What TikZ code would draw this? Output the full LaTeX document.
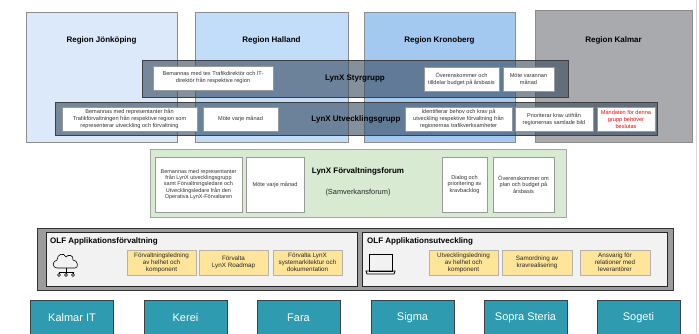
\documentclass[tikz,border=0pt]{standalone}
\usepackage{fontspec}
\setmainfont{Liberation Sans}
\definecolor{jkpfill}{HTML}{DCE9FB}
\definecolor{halfill}{HTML}{C2DDF9}
\definecolor{kronfill}{HTML}{A3C9F1}
\definecolor{kalfill}{HTML}{A8AAAD}
\definecolor{bandfill}{HTML}{34465C}
\definecolor{forumfill}{HTML}{D9EAD3}
\definecolor{olffill}{HTML}{9C9C9C}
\definecolor{panelfill}{HTML}{F2F2F2}
\definecolor{taskfill}{HTML}{FFE599}
\definecolor{levfill}{HTML}{2E9BB0}
\begin{document}
\begin{tikzpicture}[x=1pt,y=-1pt,
    region/.style={draw=black!45,inner sep=0pt,line width=0.7pt},
    regtitle/.style={font=\fontsize{8}{9.6}\selectfont\bfseries},
    band/.style={draw=black!75,fill=bandfill,fill opacity=0.6,inner sep=0pt,line width=0.7pt},
    note/.style={draw=black!40,fill=white,inner sep=0pt,align=center,text=black!80,
      font=\fontsize{5.6}{7}\selectfont},
    task/.style={draw=black!30,fill=taskfill,inner sep=0pt,align=center,text=black!85,
      minimum width=69pt,minimum height=25pt,font=\fontsize{6.3}{7}\selectfont},
    lev/.style={draw=black!75,fill=levfill,text=white,inner sep=0pt,line width=0.7pt,
      minimum width=83pt,minimum height=36pt,font=\fontsize{11}{13}\selectfont}]
  \clip (0,0) rectangle (699,333);
  \fill[white] (0,0) rectangle (699,333);
  \draw[black!15] (696,0) -- (696,333);
  % regionerna
  \node[region,fill=jkpfill,minimum width=151pt,minimum height=130pt] (jkp) at (101.5,77) {};
  \node[region,fill=halfill,minimum width=153pt,minimum height=130pt] (hal) at (271.5,77) {};
  \node[region,fill=kronfill,minimum width=151pt,minimum height=130pt] (kron) at (439.5,77) {};
  \node[region,fill=kalfill,minimum width=157pt,minimum height=132pt] (kal) at (613.5,76.5) {};
  \node[regtitle] (jkptitle) at (101.5,40) {Region Jönköping};
  \node[regtitle] (haltitle) at (271.5,40) {Region Halland};
  \node[regtitle] (krontitle) at (439.5,40) {Region Kronoberg};
  \node[regtitle] (kaltitle) at (613.5,40) {Region Kalmar};
  % styrgrupp och utvecklingsgrupp
  \node[band,minimum width=426pt,minimum height=37pt] (styr) at (355,78.5) {};
  \node[band,minimum width=602pt,minimum height=33pt] (utv) at (356,118.5) {};
  \node[regtitle] (styrtitle) at (355,79) {LynX Styrgrupp};
  \node[regtitle] (utvtitle) at (356,119) {LynX Utvecklingsgrupp};
  \node[note,minimum width=120pt,minimum height=24pt] (s1) at (213,78)
    {Bemannas med tex Trafikdirektör och IT-\\direktör från respektive region};
  \node[note,minimum width=75pt,minimum height=24pt] (s2) at (461.5,79)
    {Överenskommer och\\tilldelar budget på årsbasis};
  \node[note,minimum width=51pt,minimum height=24pt] (s3) at (528.5,79)
    {Möte varannan\\månad};
  \node[note,minimum width=135pt,minimum height=24pt] (u1) at (129.5,119)
    {Bemannas med representanter från\\Trafikförvaltningen från respektive region som\\representerar utveckling och förvaltning};
  \node[note,minimum width=75pt,minimum height=24pt] (u2) at (240.5,119) {Möte varje månad};
  \node[note,minimum width=107pt,minimum height=24pt] (u3) at (458.5,119)
    {Identifierar behov och krav på\\utveckling respektive förvaltning från\\regionernas trafikverksamheter};
  \node[note,minimum width=78pt,minimum height=24pt] (u4) at (554,119)
    {Prioriterar krav utifrån\\regionernas samlade bild};
  \node[note,minimum width=58pt,minimum height=24pt,text=red] (u5) at (626,119)
    {Mandaten för denna\\grupp behöver\\beslutas};
  % forvaltningsforum
  \node[draw=black!35,fill=forumfill,inner sep=0pt,line width=0.7pt,
    minimum width=416pt,minimum height=68pt] (forum) at (358,183) {};
  \node[regtitle] (forumtitle) at (358,171) {LynX Förvaltningsforum};
  \node[font=\fontsize{7.4}{9}\selectfont,text=black!85] (forumsub) at (358,193) {(Samverkansforum)};
  \node[note,font=\fontsize{5.5}{6.1}\selectfont,minimum width=87pt,minimum height=55pt] (f1) at (198.5,184.5)
    {Bemannas med representanter\\från LynX utvecklingsgrupp\\samt Förvaltningsledare och\\Utvecklingsledare från den\\Operativa LynX-Förvaltaren};
  \node[note,minimum width=58pt,minimum height=55pt] (f2) at (275,184.5) {Möte varje månad};
  \node[note,font=\fontsize{5.6}{6.4}\selectfont,minimum width=45pt,minimum height=55pt] (f3) at (464.5,184.5)
    {Dialog och\\prioritering av\\kravbacklog};
  \node[note,font=\fontsize{5.6}{6.4}\selectfont,minimum width=61pt,minimum height=55pt] (f4) at (523.5,184.5)
    {Överenskommer om\\plan och budget på\\årsbasis};
  % OLF
  \node[draw=black!80,fill=olffill,inner sep=0pt,line width=0.8pt,
    minimum width=636pt,minimum height=62pt] (olf) at (355,259) {};
  \node[draw=black!85,fill=panelfill,inner sep=0pt,line width=0.8pt,
    minimum width=311pt,minimum height=54pt] (forv) at (201.5,259) {};
  \node[draw=black!85,fill=panelfill,inner sep=0pt,line width=0.8pt,
    minimum width=305pt,minimum height=54pt] (utveck) at (514.5,259) {};
  \node[regtitle,anchor=west,inner sep=0pt] (forvtitle) at (50,241) {OLF Applikationsförvaltning};
  \node[regtitle,anchor=west,inner sep=0pt] (utvecktitle) at (367,241) {OLF Applikationsutveckling};
  \node[task] (t1) at (161.5,262.5) {Förvaltningsledning\\av helhet och\\komponent};
  \node[task] (t2) at (233.5,262.5) {Förvalta\\LynX Roadmap};
  \node[task] (t3) at (307.5,262.5) {Förvalta LynX\\systemarkitektur och\\dokumentation};
  \node[task] (t4) at (463.5,262.5) {Utvecklingsledning\\av helhet och\\komponent};
  \node[task,minimum width=70pt] (t5) at (537,262.5) {Samordning av\\kravrealisering};
  \node[task,minimum width=70pt] (t6) at (615,262.5) {Ansvarig för\\relationer med\\leverantörer};
  % ikoner
  \draw[line width=0.6pt] (57,268) .. controls (52,268) and (52,261) .. (57,260)
    .. controls (57,254) and (64,252) .. (66,257)
    .. controls (68,254) and (74,255) .. (73,260)
    .. controls (78,260) and (79,268) .. (75,268) -- cycle;
  \draw[line width=0.6pt] (66,268) -- (66,272) (59,272) -- (73,272);
  \foreach \x in {59,66,73} {
    \draw[line width=0.6pt] (\x,272) -- (\x,273.5);
    \draw[line width=0.6pt] (\x,275) circle (1.5);
  }
  \draw[line width=0.8pt] (369,254) rectangle (392,271);
  \draw[line width=0.8pt] (366,271) -- (395,271) -- (394,274) -- (367,274) -- cycle;
  \draw[line width=0.8pt] (378,271) -- (383,271);
  % leverantorer
  \node[lev] (kalit) at (72,318) {Kalmar IT};
  \node[lev] (kerei) at (185.5,318) {Kerei};
  \node[lev] (fara) at (298.5,318) {Fara};
  \node[lev] (sigma) at (412.5,318) {Sigma};
  \node[lev] (sopra) at (525.5,318) {Sopra Steria};
  \node[lev] (sogeti) at (638.5,318) {Sogeti};
\end{tikzpicture}
\end{document}
